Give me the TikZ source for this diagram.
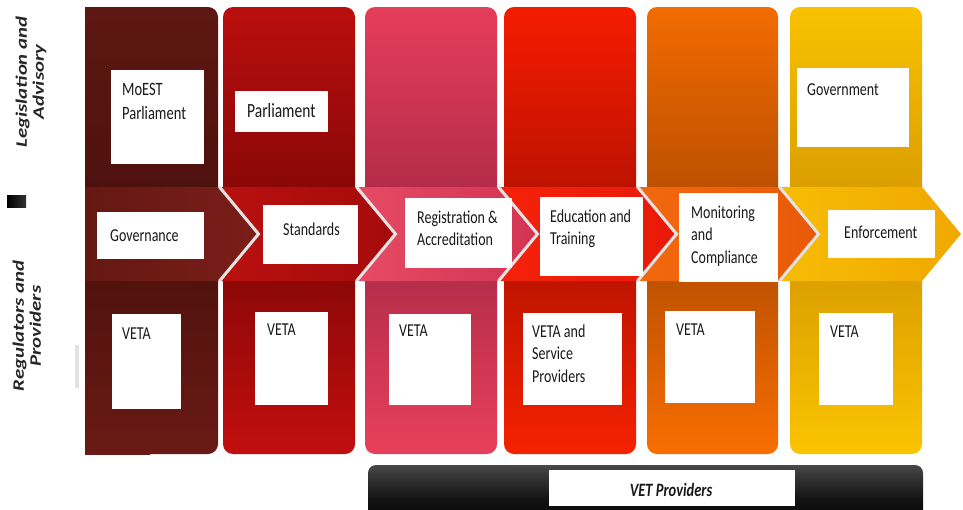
\documentclass[tikz,border=0pt]{standalone}
\usepackage{fontspec}
\setmainfont{Carlito}
\usepackage{graphicx}
\newcommand\vtxt[1]{\scalebox{1}[1.3]{\begin{tabular}[t]{@{}l@{}}#1\end{tabular}}}
\newcommand\htxt[1]{\scalebox{1.3}[1]{\begin{tabular}{@{}c@{}}#1\end{tabular}}}
\definecolor{ca1}{HTML}{5E1813}\definecolor{cb1}{HTML}{4A100C}\definecolor{cc1}{HTML}{6A1A15}
\definecolor{ca2}{HTML}{BA0E0E}\definecolor{cb2}{HTML}{7E0606}\definecolor{cc2}{HTML}{C20E0E}
\definecolor{ca3}{HTML}{E53D5A}\definecolor{cb3}{HTML}{A82844}\definecolor{cc3}{HTML}{E8405C}
\definecolor{ca4}{HTML}{F51C00}\definecolor{cb4}{HTML}{B01000}\definecolor{cc4}{HTML}{F52200}
\definecolor{ca5}{HTML}{F26B00}\definecolor{cb5}{HTML}{B04A00}\definecolor{cc5}{HTML}{F86E00}
\definecolor{ca6}{HTML}{F8C200}\definecolor{cb6}{HTML}{D49600}\definecolor{cc6}{HTML}{FAC400}
\definecolor{hl1}{HTML}{651813}\definecolor{hr1}{HTML}{7A1E19}
\definecolor{hl2}{HTML}{B8100F}\definecolor{hr2}{HTML}{A50B0B}
\definecolor{hl3}{HTML}{E64A64}\definecolor{hr3}{HTML}{D23452}
\definecolor{hl4}{HTML}{F5220A}\definecolor{hr4}{HTML}{E81A08}
\definecolor{hl5}{HTML}{F2680E}\definecolor{hr5}{HTML}{E85A08}
\definecolor{hl6}{HTML}{F7BC05}\definecolor{hr6}{HTML}{F0A800}
\begin{document}
\begin{tikzpicture}[x=1pt,y=-1pt,
  colbox/.style={rounded corners=10pt},
  gapline/.style={draw=gray!22, line width=3pt},
  wbox/.style={fill=white, inner sep=0pt, draw=none},
  txt/.style={inner sep=0pt, anchor=base west, text=black!90, font=\fontsize{14}{17.5}\selectfont},
  lab/.style={inner sep=0pt, rotate=90, text=black!85, font=\fontsize{16}{17}\selectfont\bfseries\itshape}]
\useasboundingbox (0,0) rectangle (963,509);
\clip (0,0) rectangle (963,509);
\fill[white] (0,0) rectangle (963,509);

% left labels and marks
\node[lab] (leg) at (32,82) {\htxt{Legislation and\\Advisory}};
\node[lab] (reg) at (29,326) {\htxt{Regulators and\\Providers}};
\fill[left color=black, right color=black!80] (7,195) rectangle (26,207);
\fill[gray!22] (75,345) rectangle (79,388);

% columns
\shade[colbox, top color=ca1, bottom color=cc1, middle color=cb1] (85,7) rectangle (218,454);
\shade[top color=ca1, bottom color=cc1, middle color=cb1] (85,7) rectangle (150,454);
\shade[colbox, top color=ca2, bottom color=cc2, middle color=cb2] (223,7) rectangle (355,454);
\shade[colbox, top color=ca3, bottom color=cc3, middle color=cb3] (365,7) rectangle (497,454);
\shade[colbox, top color=ca4, bottom color=cc4, middle color=cb4] (504,7) rectangle (636,454);
\shade[colbox, top color=ca5, bottom color=cc5, middle color=cb5] (647,7) rectangle (778,454);
\shade[colbox, top color=ca6, bottom color=cc6, middle color=cb6] (790,7) rectangle (922,454);

% chevrons
\shade[left color=hl1, right color=hr1] (85,187) -- (218,187) -- (257,234) -- (218,281) -- (85,281) -- cycle;
\shade[left color=hl2, right color=hr2] (221,187) -- (355,187) -- (394,234) -- (355,281) -- (221,281) -- (260,234) -- cycle;
\shade[left color=hl3, right color=hr3] (358,187) -- (497,187) -- (536,234) -- (497,281) -- (358,281) -- (397,234) -- cycle;
\shade[left color=hl4, right color=hr4] (500,187) -- (636,187) -- (675,234) -- (636,281) -- (500,281) -- (539,234) -- cycle;
\shade[left color=hl5, right color=hr5] (639,187) -- (778,187) -- (817,234) -- (778,281) -- (639,281) -- (678,234) -- cycle;
\shade[left color=hl6, right color=hr6] (781,187) -- (922,187) -- (961,234) -- (922,281) -- (781,281) -- (820,234) -- cycle;
\foreach \r in {218,355,497,636,778}
  \draw[gapline] (\r+1.5,187) -- (\r+40.5,234) -- (\r+1.5,281);

% VET providers bar
\shade[rounded corners=8pt, top color=black!72, bottom color=black, middle color=black!92] (368,465) rectangle (923,530);

% white boxes
\node[wbox, minimum width=93, minimum height=94] (b1) at (157.5,117) {};
\node[wbox, minimum width=93, minimum height=41] (b2) at (281.5,111.5) {};
\node[wbox, minimum width=112, minimum height=79] (b3) at (853,107.5) {};
\node[wbox, minimum width=107, minimum height=47] (m1) at (150.5,235.5) {};
\node[wbox, minimum width=95, minimum height=59] (m2) at (310.5,234.5) {};
\node[wbox, minimum width=107, minimum height=70] (m3) at (458.5,233) {};
\node[wbox, minimum width=103, minimum height=79] (m4) at (591.5,236.5) {};
\node[wbox, minimum width=99, minimum height=89] (m5) at (728.5,237.5) {};
\node[wbox, minimum width=107, minimum height=48] (m6) at (881.5,234) {};
\node[wbox, minimum width=69, minimum height=95] (v1) at (146.5,361.5) {};
\node[wbox, minimum width=73, minimum height=93] (v2) at (291.5,358.5) {};
\node[wbox, minimum width=82, minimum height=91] (v3) at (430,359.5) {};
\node[wbox, minimum width=99, minimum height=92] (v4) at (572.5,359) {};
\node[wbox, minimum width=90, minimum height=92] (v5) at (710,357) {};
\node[wbox, minimum width=74, minimum height=92] (v6) at (856,359) {};
\node[wbox, minimum width=246, minimum height=36] (vp) at (672,488) {};

% texts
\node[txt, font=\fontsize{14.5}{19}\selectfont] (tb1) at (122,95) {\vtxt{MoEST\\Parliament}};
\node[txt, font=\fontsize{15.5}{18}\selectfont] (tb2) at (247,117) {\vtxt{Parliament}};
\node[txt] (tb3) at (807,95) {\vtxt{Government}};
\node[txt] (tm1) at (110,241) {\vtxt{Governance}};
\node[txt] (tm2) at (283,235) {\vtxt{Standards}};
\node[txt] (tm3) at (417,223) {\vtxt{Registration \&\\Accreditation}};
\node[txt] (tm4) at (550,222) {\vtxt{Education and\\Training}};
\node[txt] (tm5) at (691,218) {\vtxt{Monitoring\\and\\Compliance}};
\node[txt] (tm6) at (844,238) {\vtxt{Enforcement}};
\node[txt] (tv1) at (122,339) {\vtxt{VETA}};
\node[txt] (tv2) at (267,335) {\vtxt{VETA}};
\node[txt] (tv3) at (399,336) {\vtxt{VETA}};
\node[txt] (tv4) at (532,337) {\vtxt{VETA and\\Service\\Providers}};
\node[txt] (tv5) at (676,335) {\vtxt{VETA}};
\node[txt] (tv6) at (830,337) {\vtxt{VETA}};
\node[txt, anchor=base, font=\fontsize{14.5}{17.5}\selectfont\bfseries\itshape] (tvp) at (671,496) {\vtxt{VET Providers}};
\end{tikzpicture}
\end{document}
